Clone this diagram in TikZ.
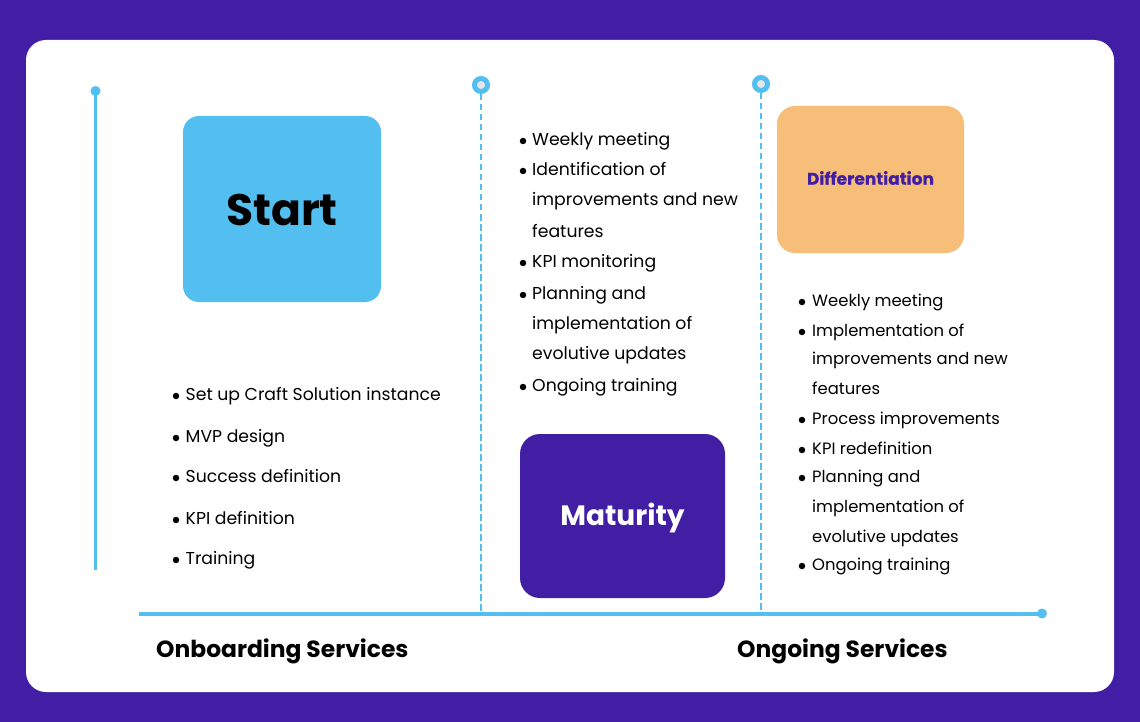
\documentclass[tikz,border=0pt]{standalone}
\usepackage{fontspec}
\setmainfont{Poppins}
\newfontfamily\heavyfont[BoldFeatures={FakeBold=0.6}]{Poppins}
\usepackage{tikz}
\definecolor{deeppurple}{HTML}{421EA5}
\definecolor{skyblue}{HTML}{53BFF0}
\definecolor{sand}{HTML}{F6BE78}
\definecolor{ringgrey}{HTML}{E6E6E6}
\tikzset{
  phasebox/.style={draw=none, rounded corners=#1, inner sep=0pt},
  phasebox/.default=18pt,
  item/.style={anchor=base west, inner sep=0pt, font=\fontsize{17.25}{17.25}\selectfont},
  smallitem/.style={anchor=base west, inner sep=0pt, font=\fontsize{16.4}{16.4}\selectfont},
  bullet/.style={circle, fill=black, inner sep=0pt, minimum size=6.5pt},
  heading/.style={anchor=base west, inner sep=0pt, font=\fontsize{23.4}{23.4}\selectfont\bfseries},
  solidline/.style={draw=skyblue, line width=3.4pt},
  dashline/.style={draw=skyblue, line width=2.4pt, dash pattern=on 6.5pt off 3.5pt},
  dot/.style={circle, fill=skyblue, inner sep=0pt, minimum size=#1},
  ring/.style={circle, draw=skyblue, fill=ringgrey, line width=5pt, inner sep=0pt, minimum size=13pt},
}
\begin{document}
\begin{tikzpicture}[x=1pt, y=-1pt]
\useasboundingbox (0,0) rectangle (1140,722);
\fill[deeppurple] (0,0) rectangle (1140,722);
\fill[white, rounded corners=20pt] (26,40) rectangle (1114,692);

% time lines
\node[dot=10pt] (topdot) at (95.5,91) {};
\coordinate (leftend) at (95.5,570);
\draw[solidline] (topdot.center) -- (leftend);
\coordinate (axisstart) at (139,614);
\node[dot=10pt] (axisdot) at (1042,613.5) {};
\draw[solidline] (axisstart) -- (axisstart -| axisdot);
\coordinate (footA) at (481,612);
\coordinate (footB) at (761,612);
\node[ring] (ringA) at (481,85) {};
\node[ring] (ringB) at (761,84) {};
\draw[dashline] (ringA.south) -- (footA);
\draw[dashline] (ringB.south) -- (footB);

% boxes
\node[phasebox=16pt, fill=skyblue, minimum width=198pt, minimum height=186pt] (start) at (282,209) {};
\node[font=\fontsize{44}{44}\selectfont\bfseries, inner sep=0pt] (starttext) at (282,210) {Start};
\node[phasebox=20pt, fill=deeppurple, minimum width=205pt, minimum height=164pt] (maturity) at (622.5,516) {};
\node[text=white, font=\fontsize{28}{28}\selectfont\bfseries, inner sep=0pt] (maturitytext) at (622.5,518) {Maturity};
\node[phasebox=18pt, fill=sand, minimum width=187pt, minimum height=147pt] (differentiation) at (870.5,179.5) {};
\node[text=deeppurple, font=\fontsize{17}{17}\heavyfont\bfseries, inner sep=0pt] (differentiationtext) at (870.5,178) {Differentiation};

% left list
\node[bullet] (b1) at (176,396) {};
\node[item] (l1) at (185.5,400) {Set up Craft Solution instance};
\node[bullet] (b2) at (176,438) {};
\node[item] (l2) at (185.5,442) {MVP design};
\node[bullet] (b3) at (176,478) {};
\node[item] (l3) at (185.5,482) {Success definition};
\node[bullet] (b4) at (176,520) {};
\node[item] (l4) at (185.5,524) {KPI definition};
\node[bullet] (b5) at (176,560) {};
\node[item] (l5) at (185.5,564) {Training};

% middle list
\node[bullet] (m1) at (523,141) {};
\node[item] (t1) at (532,145.5) {Weekly meeting};
\node[bullet] (m2) at (523,171) {};
\node[item] (t2) at (532,175.5) {Identification of};
\node[item] (t2b) at (532,205) {improvements and new};
\node[item] (t2c) at (532,237) {features};
\node[bullet] (m3) at (523,263) {};
\node[item] (t3) at (532,267) {KPI monitoring};
\node[bullet] (m4) at (523,295) {};
\node[item] (t4) at (532,299) {Planning and};
\node[item] (t4b) at (532,329) {implementation of};
\node[item] (t4c) at (532,359) {evolutive updates};
\node[bullet] (m5) at (523,387) {};
\node[item] (t5) at (532,391) {Ongoing training};

% right list
\node[bullet] (r1) at (802,302) {};
\node[smallitem] (s1) at (812,306) {Weekly meeting};
\node[bullet] (r2) at (802,332) {};
\node[smallitem] (s2) at (812,336) {Implementation of};
\node[smallitem] (s2b) at (812,364) {improvements and new};
\node[smallitem] (s2c) at (812,394) {features};
\node[bullet] (r3) at (802,420) {};
\node[smallitem] (s3) at (812,424) {Process improvements};
\node[bullet] (r4) at (802,450) {};
\node[smallitem] (s4) at (812,454) {KPI redefinition};
\node[bullet] (r5) at (802,478) {};
\node[smallitem] (s5) at (812,482) {Planning and};
\node[smallitem] (s5b) at (812,512) {implementation of};
\node[smallitem] (s5c) at (812,542) {evolutive updates};
\node[bullet] (r6) at (802,566) {};
\node[smallitem] (s6) at (812,570) {Ongoing training};

% headings
\node[heading] (onboarding) at (156,657) {Onboarding Services};
\node[heading] (ongoing) at (737,657) {Ongoing Services};
\end{tikzpicture}
\end{document}
